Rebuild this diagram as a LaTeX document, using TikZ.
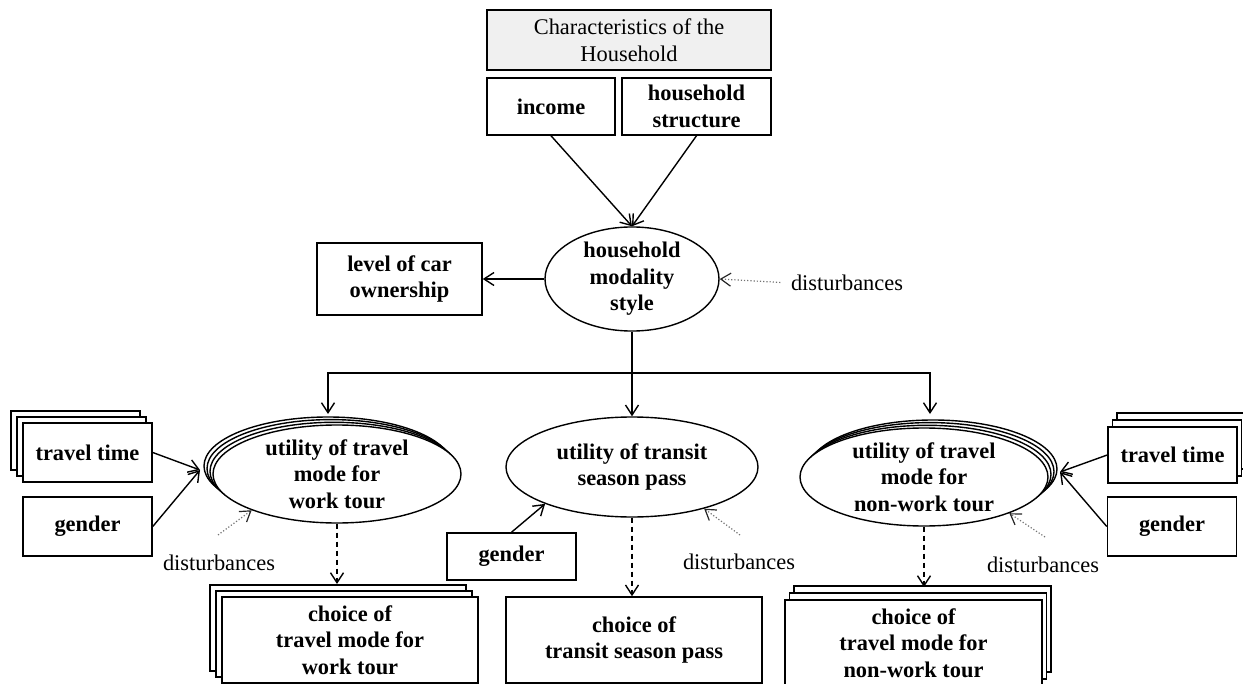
\documentclass[tikz,border=0pt]{standalone}
\usepackage{fontspec}
\setmainfont{Liberation Serif}
\usetikzlibrary{shapes.geometric,shadows,arrows.meta}

\newcommand\labelsize{\fontsize{11.2}{13.3}\selectfont}

\tikzset{
  box/.style={draw, line width=0.75pt, fill=white, align=center, inner sep=0pt, font=\labelsize\bfseries},
  titlebox/.style={box, fill=black!6, font=\labelsize},
  oval/.style={ellipse, draw, line width=0.7pt, fill=white, align=center, inner sep=0pt, font=\labelsize\bfseries},
  plain/.style={inner sep=0pt, font=\labelsize},
  layer/.style={draw=black, fill=white, line width=0.7pt},
  stackleft/.style={
    copy shadow={layer, shadow xshift=-4.5pt, shadow yshift=4pt},
    copy shadow={layer, shadow xshift=-3pt, shadow yshift=2.7pt},
    copy shadow={layer, shadow xshift=-1.5pt, shadow yshift=1.35pt}},
  stackright/.style={
    copy shadow={layer, shadow xshift=4.5pt, shadow yshift=4pt},
    copy shadow={layer, shadow xshift=3pt, shadow yshift=2.7pt},
    copy shadow={layer, shadow xshift=1.5pt, shadow yshift=1.35pt}},
  pileleft/.style={
    copy shadow={layer, shadow xshift=-6pt, shadow yshift=6pt},
    copy shadow={layer, shadow xshift=-3pt, shadow yshift=3pt}},
  pileright/.style={
    copy shadow={layer, shadow xshift=4.5pt, shadow yshift=7pt},
    copy shadow={layer, shadow xshift=2.25pt, shadow yshift=3.5pt}},
  distarrow/.style={-{Straight Barb[length=5pt,width=6.5pt,color=black!85]}, densely dotted, draw=black!55, line width=0.6pt},
  dasharrow/.style={->, dash pattern=on 2.5pt off 2pt}
}

\begin{document}
\begin{tikzpicture}[x=0.5pt, y=-0.5pt, line width=0.7pt,
  >={Straight Barb[length=5pt,width=6.5pt]}]
  \useasboundingbox (0,0) rectangle (1243,684);

  % household level
  \node[titlebox, minimum width=142pt, minimum height=30pt] (chars) at (629,40) {Characteristics of the\\Household};
  \node[box, minimum width=64pt, minimum height=28.5pt] (income) at (551,106.5) {income};
  \node[box, minimum width=74.5pt, minimum height=28.5pt] (hhstruct) at (696.5,106.5) {household\\structure};

  \node[oval, minimum width=87pt, minimum height=51pt] (hms) at (632,279) {household\\modality\\style};
  \node[plain] (dist) at (847,283) {disturbances};
  \node[box, minimum width=82.5pt, minimum height=36pt] (car) at (399.5,279) {level of car\\ownership};

  % utilities
  \node[oval, stackleft, minimum width=124pt, minimum height=49pt] (wu) at (337,474) {utility of travel\\mode for\\work tour};
  \node[oval, minimum width=126pt, minimum height=50pt] (tu) at (632,467) {utility of transit\\season pass};
  \node[oval, stackright, minimum width=124pt, minimum height=49pt] (nu) at (924,477) {utility of travel\\mode for\\non-work tour};

  % individual inputs
  \node[box, pileleft, minimum width=64.5pt, minimum height=29.5pt] (ttl) at (87.5,452.5) {travel time};
  \node[box, minimum width=64.5pt, minimum height=29.5pt] (gl) at (87.5,526.5) {gender};
  \node[box, pileright, minimum width=64.5pt, minimum height=28pt] (ttr) at (1172.5,455) {travel time};
  \node[box, minimum width=64.5pt, minimum height=29.5pt] (gr) at (1172,526.5) {gender};
  \node[box, minimum width=64.5pt, minimum height=23.5pt] (gc) at (511.5,556.5) {gender};

  \node[plain] (dl) at (219,563) {disturbances};
  \node[plain] (dc) at (739,562) {disturbances};
  \node[plain] (dr) at (1043,565) {disturbances};

  % choices
  \node[box, pileleft, minimum width=128pt, minimum height=43pt] (wc) at (350,640) {choice of\\travel mode for\\work tour};
  \node[box, minimum width=128pt, minimum height=43pt] (tc) at (634,640) {choice of\\transit season pass};
  \node[box, pileright, minimum width=128.5pt, minimum height=43pt] (nc) at (913.5,643) {choice of\\travel mode for\\non-work tour};

  % arrows into the modality style
  \draw[->] (income.south) -- (hms.north);
  \draw[->] (hhstruct.south) -- (hms.north);
  \draw[->] (hms.west) -- (car.east);
  \draw[distarrow, shorten <=5pt] (dist.west) -- (hms.east);

  % branches down
  \coordinate (split) at (632,373);
  \coordinate (wutop) at (328,414);
  \coordinate (nutop) at (930,414);
  \draw[->] (hms.south) -- (tu.north);
  \draw[->] (split) -| (wutop);
  \draw[->] (split) -| (nutop);

  % inputs
  \coordinate (wuin) at (200,470);
  \coordinate (nuin) at (1060,472);
  \draw[->] (ttl.east) -- (wuin);
  \draw[->] (gl.east) -- (wuin);
  \draw[->] (ttr.west) -- (nuin);
  \draw[->] (gr.west) -- (nuin);
  \draw[->] (gc.north) -- (tu.203);

  % disturbances
  \coordinate (dlt) at (218,535);
  \coordinate (dct) at (740,535);
  \coordinate (drt) at (1045,537);
  \draw[distarrow] (dlt) -- (wu.203);
  \draw[distarrow] (dct) -- (tu.330);
  \draw[distarrow] (drt) -- (nu.337);

  % choices
  \coordinate (wcin) at (337,584);
  \coordinate (ncin) at (924,587);
  \draw[dasharrow] (wu.south) -- (wcin);
  \draw[dasharrow] (tu.south) -- (tu.south |- tc.north);
  \draw[dasharrow] (nu.south) -- (ncin);
\end{tikzpicture}
\end{document}
